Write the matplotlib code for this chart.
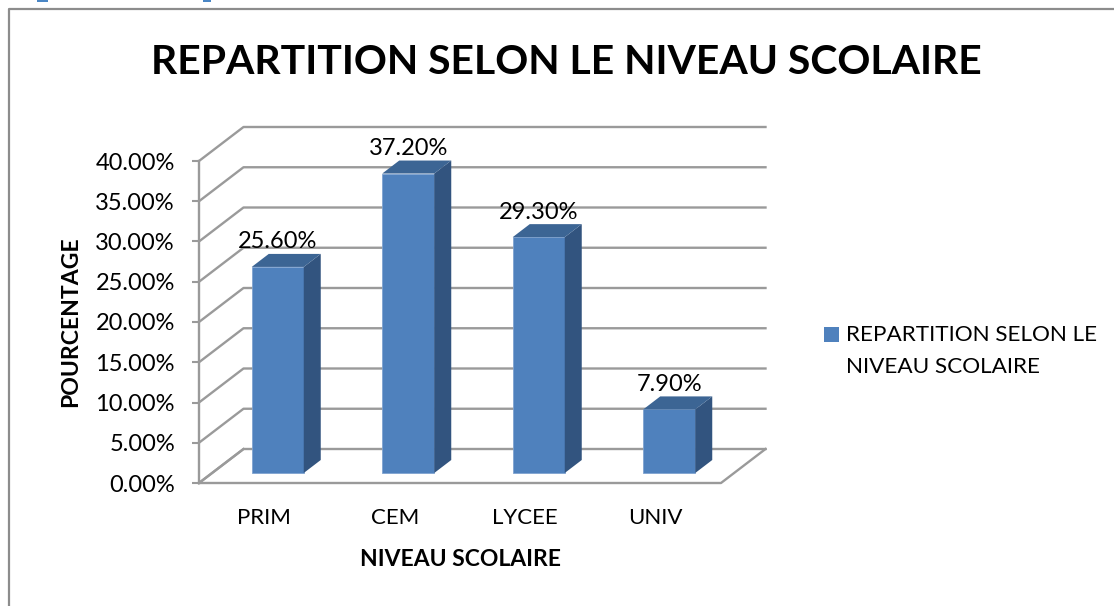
import matplotlib
matplotlib.use("Agg")
import matplotlib.pyplot as plt
from matplotlib.patches import Polygon, Rectangle

plt.rcParams['font.family'] = ['Lato', 'DejaVu Sans']

categories = ["PRIM", "CEM", "LYCEE", "UNIV"]
values = [25.6, 37.2, 29.3, 7.9]
value_labels = ["25.60%", "37.20%", "29.30%", "7.90%"]
yticks = [0, 5, 10, 15, 20, 25, 30, 35, 40]
ytick_labels = ["0.00%", "5.00%", "10.00%", "15.00%", "20.00%", "25.00%", "30.00%", "35.00%", "40.00%"]
title = "REPARTITION SELON LE NIVEAU SCOLAIRE"
legend_lines = ["REPARTITION SELON LE", "NIVEAU SCOLAIRE"]

W, H = 1114, 606
BLUE = "#4f81bd"
SIDE = "#32547f"
TOP = "#3c6594"
GRID = "#9a9a9a"

# front plane of the fake 3d box, in pixels
left, right, bottom, top = 199, 721, 483, 161
px_x = 4 / (right - left)
px_y = 40 / (bottom - top)

fig = plt.figure(figsize=(W / 100, H / 100), dpi=100)
bg = fig.add_axes([0, 0, 1, 1])
bg.set_xlim(0, W)
bg.set_ylim(H, 0)
bg.axis("off")

# outer frame
bg.plot([8.5, 8.5, W], [H, 8.5, 8.5], color="#8c8c8c", lw=1.6)

# bits of the cut off heading above the chart
bg.add_patch(Rectangle((37, 0), 11, 1.5, fc="#4a86c5", ec="none"))
bg.add_patch(Rectangle((203, 0), 8, 1.5, fc="#4a86c5", ec="none"))

ax = fig.add_axes([left / W, 1 - bottom / H, (right - left) / W, (bottom - top) / H])
ax.set_xlim(0, 4)
ax.set_ylim(0, 40)
ax.patch.set_alpha(0)
for s in ax.spines.values():
    s.set_visible(False)

# depth of the box and of the bars
dx = 44.5 * px_x
dy = 34 * px_y
bar_dx = 17 * px_x
bar_dy = 13 * px_y
shift_x = 13.5 * px_x
base = 10 * px_y
bar_w = 52 * px_x

# walls and floor
for t in yticks:
    ax.plot([0, dx, 4 + dx], [t, t + dy, t + dy], color=GRID, lw=1.7, clip_on=False, zorder=1)
ax.plot([0, 0], [0, 40], color=GRID, lw=1.7, clip_on=False, zorder=1)
ax.plot([0, 4, 4 + dx], [0, 0, dy], color=GRID, lw=1.7, clip_on=False, zorder=1)
ax.plot([0, dx], [0, dy], color=GRID, lw=1.7, clip_on=False, zorder=1)

# bars
xpos = [i + 0.5 + shift_x for i in range(len(values))]
ax.bar(xpos, values, width=bar_w, bottom=base, color=BLUE, edgecolor="#7fa3d0", lw=0.6, zorder=3)
for x, v, lab in zip(xpos, values, value_labels):
    x1 = x + bar_w / 2
    x0 = x - bar_w / 2
    y1 = base + v
    ax.add_patch(Polygon([(x1, base), (x1 + bar_dx, base + bar_dy), (x1 + bar_dx, y1 + bar_dy), (x1, y1)],
                         closed=True, fc=SIDE, ec="none", zorder=3, clip_on=False))
    ax.add_patch(Polygon([(x0, y1), (x0 + bar_dx, y1 + bar_dy), (x1 + bar_dx, y1 + bar_dy), (x1, y1)],
                         closed=True, fc=TOP, ec="none", zorder=3, clip_on=False))
    ax.text(x, y1 + 25 * px_y, lab, ha="center", va="center", fontsize=17, color="black",
            zorder=4, clip_on=False)

ax.set_yticks(yticks)
ax.set_yticklabels(ytick_labels, fontsize=17)
ax.tick_params(axis="y", length=5, width=1.5, color=GRID, pad=12.3)
ax.set_xticks([i + 0.5 for i in range(4)])
ax.set_xticklabels(categories, fontsize=16)
ax.tick_params(axis="x", length=0, pad=18)

bg.text(566, 62, title, ha="center", va="center", fontsize=29.4, fontweight="bold", color="black")
bg.text(71, 322, "POURCENTAGE", rotation=90, ha="center", va="center", fontsize=16.6, fontweight="bold")
bg.text(460, 559, "NIVEAU SCOLAIRE", ha="center", va="center", fontsize=16.5, fontweight="bold")

# legend
bg.add_patch(Rectangle((824, 327), 15, 15, fc=BLUE, ec="none"))
bg.text(846, 335, legend_lines[0], ha="left", va="center", fontsize=16.2)
bg.text(846, 367, legend_lines[1], ha="left", va="center", fontsize=16.2)

fig.savefig("out.png", dpi=100)
